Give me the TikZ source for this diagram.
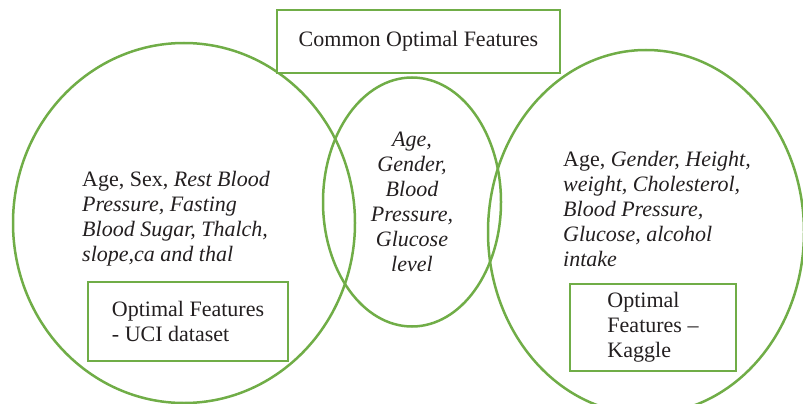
\documentclass[tikz,border=0pt]{standalone}
\usepackage{fontspec}
\setmainfont{Liberation Serif}
\usetikzlibrary{shapes.geometric}
\definecolor{vgreen}{HTML}{70AD47}
\definecolor{vtext}{HTML}{231F20}
\newcommand{\diagfont}{\fontsize{22}{25}\selectfont}
\begin{document}
\begin{tikzpicture}[x=1pt,y=-1pt,
  oval/.style={ellipse, draw=vgreen, line width=2.5pt, inner sep=0pt},
  gbox/.style={rectangle, draw=vgreen, line width=2.9pt, fill=white, inner sep=0pt, align=left, text=vtext, font=\diagfont},
  label/.style={inner sep=0pt, text=vtext, font=\diagfont}]
\useasboundingbox (0,0) rectangle (803,404);
% ellipses
\node[oval, minimum width=342pt, minimum height=360pt] (uci) at (184,223) {};
\node[oval, minimum width=178pt, minimum height=249pt] (common) at (412,202) {};
\node[oval, minimum width=316pt, minimum height=364pt] (kaggle) at (646,232) {};
% boxes
\node[gbox, minimum width=283pt, minimum height=63pt] (title) at (418.5,41.5) {Common Optimal Features};
\node[gbox, minimum width=200pt, minimum height=79pt] (ucibox) at (188,321.5) {Optimal Features\\- UCI dataset};
\node[gbox, minimum width=166pt, minimum height=87pt] (kagbox) at (653,327.5) {Optimal\\Features --\\Kaggle};
% texts
\node[label, align=left, anchor=north west] (ucitext) at (82,171)
  {Age, Sex, \textit{Rest Blood}\\\textit{Pressure, Fasting}\\\textit{Blood Sugar, Thalch,}\\\textit{slope,ca and thal}};
\node[label, align=center, anchor=north] (comtext) at (412,132)
  {\textit{Age,}\\\textit{Gender,}\\\textit{Blood}\\\textit{Pressure,}\\\textit{Glucose}\\\textit{level}};
\node[label, align=left, anchor=north west] (kagtext) at (563,151)
  {Age, \textit{Gender, Height,}\\\textit{weight, Cholesterol,}\\\textit{Blood Pressure,}\\\textit{Glucose, alcohol}\\\textit{intake}};
\end{tikzpicture}
\end{document}
